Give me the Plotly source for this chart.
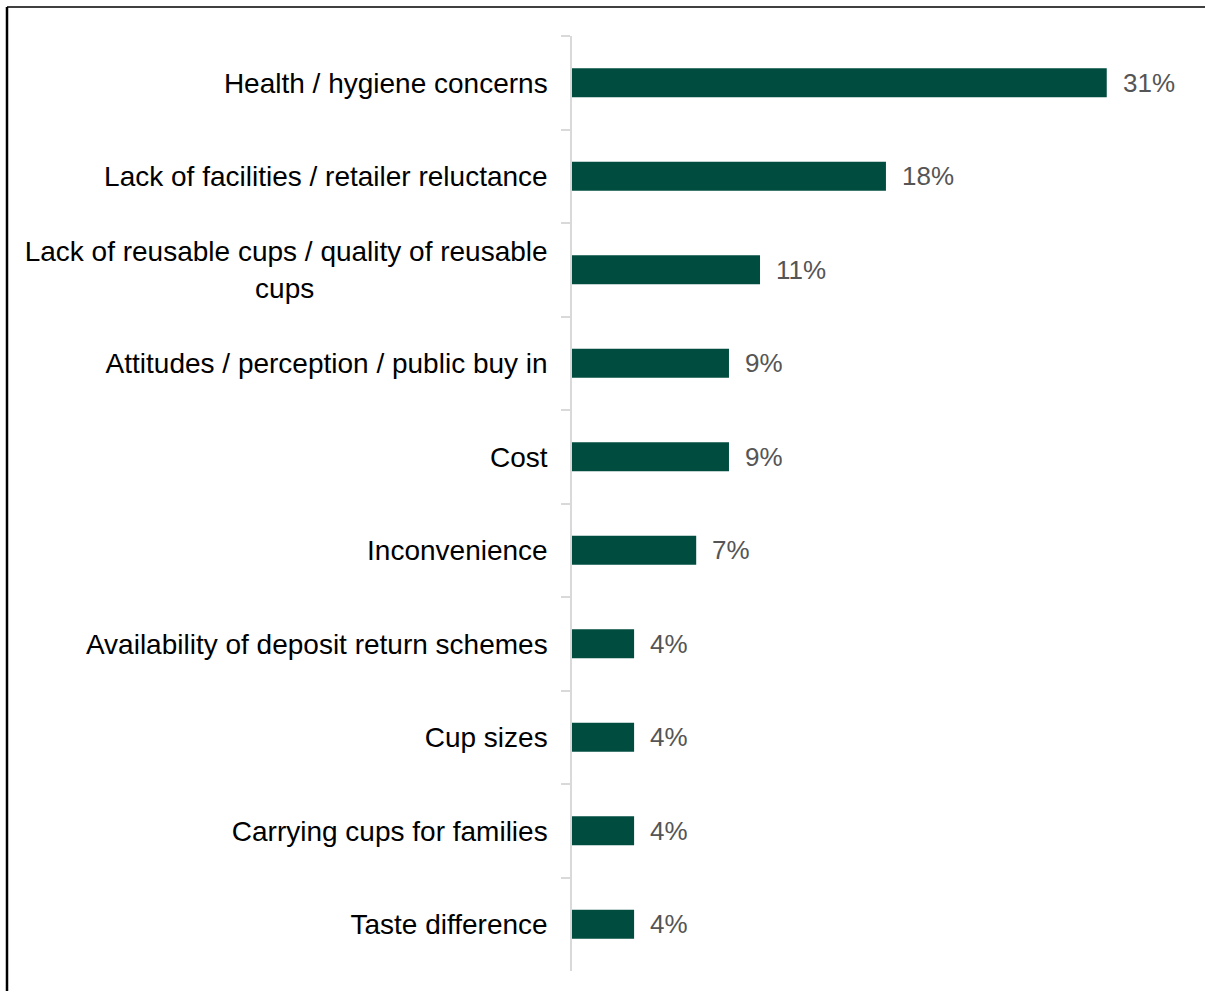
import plotly.graph_objects as go

NBSP = "\u00a0"
categories = [
    "Health / hygiene concerns",
    "Lack of facilities / retailer reluctance",
    "Lack of reusable cups / quality of reusable<br>cups" + NBSP * 30,
    "Attitudes / perception / public buy in",
    "Cost",
    "Inconvenience",
    "Availability of deposit return schemes",
    "Cup sizes",
    "Carrying cups for families",
    "Taste difference",
]
values = [31.0, 18.2, 10.9, 9.1, 9.1, 7.2, 3.6, 3.6, 3.6, 3.6]
value_labels = ["31%", "18%", "11%", "9%", "9%", "7%", "4%", "4%", "4%", "4%"]

BAR_COLOR = "#004d40"
FONT = "Liberation Sans, Arial, sans-serif"

fig = go.Figure()
fig.add_trace(go.Bar(
    x=values,
    y=categories,
    orientation="h",
    marker=dict(color=BAR_COLOR, line=dict(width=0)),
    width=0.31,
    hoverinfo="skip",
))

for v, c, lab in zip(values, categories, value_labels):
    fig.add_annotation(
        x=v, y=c, text=lab, showarrow=False, xanchor="left", xshift=14,
        font=dict(family=FONT, size=26, color="#555555"),
    )

W, H = 1205, 991
L, R, T, B = 572, 12, 36, 20
pw = W - L - R
ph = H - T - B

# border frame (left and top visible)
x_left = (7 - L) / pw
y_top = 1 + (T - 7) / ph
fig.add_shape(type="line", xref="paper", yref="paper", x0=x_left, x1=x_left,
              y0=-0.2, y1=y_top, line=dict(color="black", width=2.5))
fig.add_shape(type="line", xref="paper", yref="paper", x0=x_left, x1=1.2,
              y0=y_top, y1=y_top, line=dict(color="black", width=1.5))

fig.update_layout(
    width=W, height=H,
    margin=dict(l=L, r=R, t=T, b=B),
    paper_bgcolor="white", plot_bgcolor="white",
    showlegend=False,
    font=dict(family=FONT, size=28, color="black"),
    xaxis=dict(range=[0, 36], visible=False, fixedrange=True),
    yaxis=dict(
        type="category",
        autorange="reversed",
        showline=True, linecolor="#d9d9d9", linewidth=1.5,
        ticks="outside", tickson="boundaries", ticklen=9, tickcolor="#d9d9d9", tickwidth=1.5,
        ticklabelstandoff=17,
        showgrid=False, zeroline=False, fixedrange=True,
        tickfont=dict(family=FONT, size=28, color="black"),
    ),
)

fig.write_html(
    "out.html",
    config={"displayModeBar": False},
    post_script="document.body.style.margin='0';document.body.style.overflow='hidden';",
)
